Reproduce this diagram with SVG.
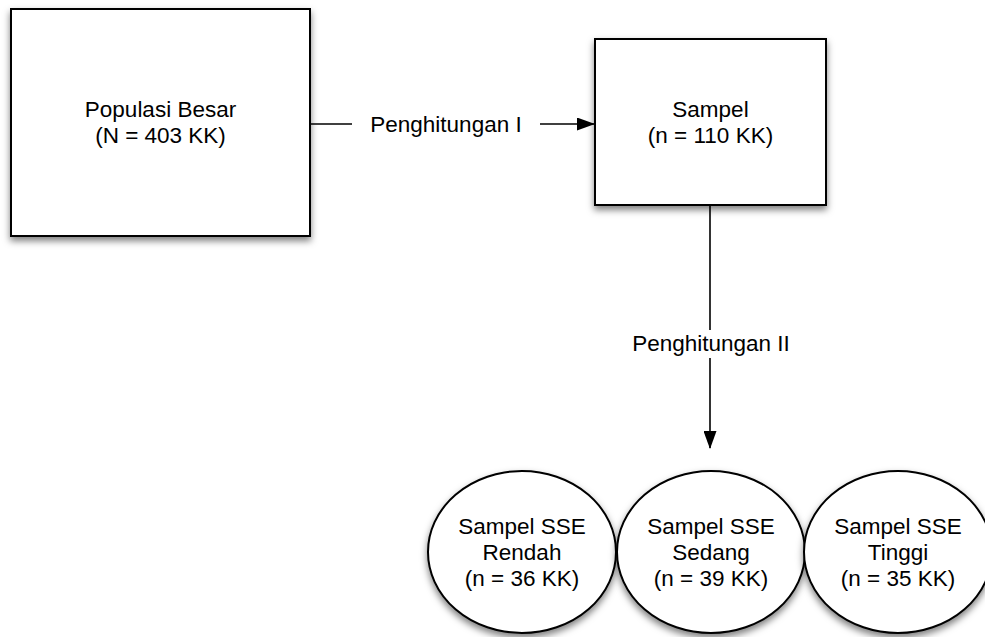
<svg xmlns="http://www.w3.org/2000/svg" width="985" height="637" viewBox="0 0 985 637">
<style>
.shape{fill:#fff;stroke:#000;stroke-width:2;filter:url(#sh)}
.t{font-family:"Liberation Sans",Arial,sans-serif;font-size:22.5px;fill:#000;text-anchor:middle}
.c{stroke:#000;stroke-width:1.6;fill:none}
</style>
<defs>
<filter id="sh" x="-20%" y="-20%" width="140%" height="150%">
<feDropShadow dx="0" dy="4" stdDeviation="3.5" flood-color="#000" flood-opacity="0.5"/>
</filter>
<marker id="ah" markerWidth="18" markerHeight="13" refX="17" refY="6.5" orient="auto" markerUnits="userSpaceOnUse">
<path d="M0,0 L18,6.5 L0,13 Z" fill="#000"/>
</marker>
</defs>
<rect width="985" height="637" fill="#fff"/>
<g id="connectors">
<line class="c" x1="310" y1="124" x2="352" y2="124"/>
<line class="c" x1="540" y1="124" x2="594" y2="124" marker-end="url(#ah)"/>
<text class="t" x="446" y="132">Penghitungan I</text>
<line class="c" x1="710" y1="205" x2="710" y2="330"/>
<line class="c" x1="710" y1="358" x2="710" y2="448" marker-end="url(#ah)"/>
<text class="t" x="711" y="351">Penghitungan II</text>
</g>
<g id="populasi">
<rect class="shape" x="11" y="9" width="299" height="227"/>
<text class="t" x="160.5" y="117">Populasi Besar</text>
<text class="t" x="160.5" y="143">(N = 403 KK)</text>
</g>
<g id="sampel">
<rect class="shape" x="595" y="39" width="231" height="166"/>
<text class="t" x="710.5" y="117">Sampel</text>
<text class="t" x="710.5" y="143">(n = 110 KK)</text>
</g>
<g id="rendah">
<ellipse class="shape" cx="522" cy="552" rx="94" ry="81"/>
<text class="t" x="522" y="534">Sampel SSE</text>
<text class="t" x="522" y="560">Rendah</text>
<text class="t" x="522" y="586">(n = 36 KK)</text>
</g>
<g id="sedang">
<ellipse class="shape" cx="711" cy="552" rx="94" ry="81"/>
<text class="t" x="711" y="534">Sampel SSE</text>
<text class="t" x="711" y="560">Sedang</text>
<text class="t" x="711" y="586">(n = 39 KK)</text>
</g>
<g id="tinggi">
<ellipse class="shape" cx="898" cy="552" rx="94" ry="81"/>
<text class="t" x="898" y="534">Sampel SSE</text>
<text class="t" x="898" y="560">Tinggi</text>
<text class="t" x="898" y="586">(n = 35 KK)</text>
</g>
</svg>
